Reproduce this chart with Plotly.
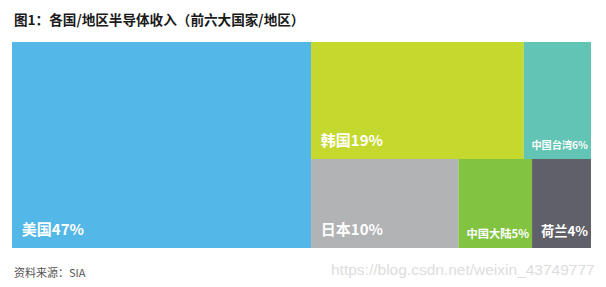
import plotly.graph_objects as go

# Data
regions = ["美国", "韩国", "中国台湾", "日本", "中国大陆", "荷兰"]
shares = [47, 19, 6, 10, 5, 4]
groups = ["", "上排", "上排", "下排", "下排", "下排"]  # layout grouping of tiles
colors = ["#53b8e8", "#c5d82e", "#62c4b4", "#b1b3b4", "#82c341", "#5f6068"]

title_text = "图1：各国/地区半导体收入（前六大国家/地区）"
source_text = "资料来源：SIA"
watermark_text = "https://blog.csdn.net/weixin_43749777"


def tile_text(r, v):
    # label line at 15px, followed by a short spacer line that lifts it off the tile bottom
    return ("<span style='font-size:15px'><b>\u00a0\u00a0" + f"{r}{v}%" + "</b></span>"
            "<br>\u00a0")


# Build hierarchy: root -> 美国, 其他 ; 其他 -> 上排, 下排 ; rows -> regions
ids, labels, parents, values, texts, mcolors = [], [], [], [], [], []
top_sum = sum(v for v, g in zip(shares, groups) if g == "上排")
bot_sum = sum(v for v, g in zip(shares, groups) if g == "下排")

for r, v, g, c in zip(regions, shares, groups, colors):
    if g == "":
        ids.append(r); labels.append(r); parents.append(""); values.append(v)
        texts.append(tile_text(r, v)); mcolors.append(c)
ids += ["其他", "上排", "下排"]
labels += ["", "", ""]
parents += ["", "其他", "其他"]
values += [top_sum + bot_sum, top_sum, bot_sum]
texts += ["", "", ""]
mcolors += ["#ffffff", "#ffffff", "#ffffff"]
for r, v, g, c in zip(regions, shares, groups, colors):
    if g != "":
        ids.append(r); labels.append(r); parents.append(g); values.append(v)
        texts.append(tile_text(r, v)); mcolors.append(c)

fig = go.Figure(go.Treemap(
    ids=ids, labels=labels, parents=parents, values=values,
    branchvalues="total", sort=False,
    text=texts, textinfo="text",
    textposition="bottom left",
    textfont=dict(family="Noto Sans CJK SC", size=6, color="white"),
    marker=dict(colors=mcolors, line=dict(width=0), pad=dict(t=0, l=0, r=0, b=0)),
    tiling=dict(packing="slice-dice", pad=0),
    pathbar=dict(visible=False),
    hoverinfo="skip",
))

fig.update_layout(
    width=606, height=287,
    margin=dict(l=12, r=15, t=42, b=39),
    paper_bgcolor="white",
    annotations=[
        dict(text=f"<b>{title_text}</b>", xref="paper", yref="paper", x=0, y=1 + 23/206,
             xanchor="left", yanchor="middle", showarrow=False,
             font=dict(family="Noto Sans CJK SC", size=13.6, color="#1a1a1a")),
        dict(text=source_text, xref="paper", yref="paper", x=0, y=-24/206,
             xanchor="left", yanchor="middle", showarrow=False,
             font=dict(family="Noto Sans CJK SC", size=11, color="#555555")),
        dict(text=watermark_text, xref="paper", yref="paper", x=1 + 6/579, y=-21/206,
             xanchor="right", yanchor="middle", showarrow=False,
             font=dict(family="Liberation Sans", size=15.5, color="#dddddd")),
    ],
)

fig.write_html("out.html")
